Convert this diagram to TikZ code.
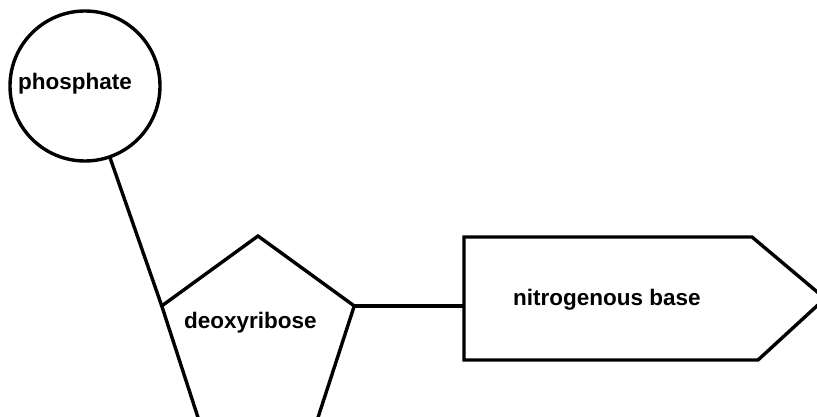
\documentclass[tikz,border=0pt]{standalone}
\usepackage{fontspec}
\setmainfont{Liberation Sans}
\usetikzlibrary{shapes.geometric}
\begin{document}
\begin{tikzpicture}[x=1pt,y=-1pt,
  shapeline/.style={draw=black,line width=3.4pt,line join=miter},
  lbl/.style={inner sep=0pt,anchor=base west,font=\fontsize{22.5}{27}\selectfont\bfseries}]
\useasboundingbox (0,0) rectangle (817,417);
\clip (0,0) rectangle (817,417);
% phosphate circle
\node[shapeline,circle,minimum size=150pt,inner sep=0pt,outer sep=0pt,fill=white] (phos) at (85,86) {};
% deoxyribose pentagon
\node[shapeline,regular polygon,regular polygon sides=5,minimum size=202.4pt,inner sep=0pt,outer sep=0pt] (pent) at (258,337.2) {};
% nitrogenous base box
\coordinate (bw) at (464,298.5);
\draw[shapeline] (464,237) -- (752,237) -- (825,298.5) -- (758,360) -- (464,360) -- cycle;
% connectors
\draw[shapeline] (pent.corner 2) -- (phos);
\draw[shapeline] (pent.corner 5) -- (pent.corner 5 -| bw);
% labels
\node[lbl] (tphos) at (18,90) {phosphate};
\node[lbl] (tdeo) at (184,328) {deoxyribose};
\node[lbl] (tbase) at (513,305) {nitrogenous base};
\end{tikzpicture}
\end{document}
